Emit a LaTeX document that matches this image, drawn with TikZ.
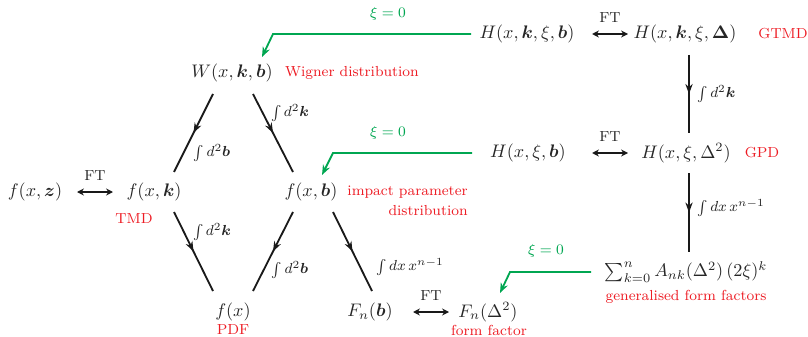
\documentclass[tikz,border=0pt]{standalone}
\usepackage{amsmath}
\usetikzlibrary{arrows.meta,calc,decorations.markings}
\definecolor{myred}{RGB}{237,28,36}
\definecolor{mygreen}{RGB}{0,166,81}
\tikzset{
  mathnode/.style={inner sep=2pt,text=black!85},
  redlabel/.style={inner sep=0pt,text=myred,font=\footnotesize},
  oplabel/.style={inner sep=0pt,text=black!85,font=\footnotesize},
  greenlabel/.style={inner sep=0pt,text=mygreen,font=\footnotesize},
  midarrow/.style={line width=1pt,black!90,postaction={decorate},
    decoration={markings,mark=at position 0.5 with {\arrow{Stealth[length=5.5pt,width=4pt]}}}},
  ftarrow/.style={line width=1pt,black!90,{Stealth[length=3.8pt,width=3.8pt]}-{Stealth[length=3.8pt,width=3.8pt]}},
  greenarrow/.style={line width=1pt,mygreen,-{Stealth[length=5.5pt,width=4.2pt]}},
}
\begin{document}
\begin{tikzpicture}[x=0.55pt,y=-0.55pt]
\useasboundingbox (0,0) rectangle (808,336);
% top row
\node[mathnode] (Hkxb) at (527,34) {$H(x,\boldsymbol{k},\xi,\boldsymbol{b})$};
\node[mathnode] (Hkxd) at (685,34) {$H(x,\boldsymbol{k},\xi,\boldsymbol{\Delta})$};
\node[redlabel] (gtmd) at (783,34) {GTMD};
\node[mathnode] (W) at (232,73) {$W(x,\boldsymbol{k},\boldsymbol{b})$};
\node[redlabel] (wig) at (352,73) {Wigner distribution};
% middle row
\node[mathnode] (Hxb) at (528,153) {$H(x,\xi,\boldsymbol{b})$};
\node[mathnode] (Hxd) at (686,153) {$H(x,\xi,\Delta^2)$};
\node[redlabel] (gpd) at (762,153) {GPD};
\node[mathnode] (fxz) at (35,192) {$f(x,\boldsymbol{z})$};
\node[mathnode] (fk) at (154,192) {$f(x,\boldsymbol{k})$};
\node[redlabel] (tmd) at (134,219) {TMD};
\node[mathnode] (fb) at (311,192) {$f(x,\boldsymbol{b})$};
\node[redlabel,align=right,anchor=north east] (ipd) at (468,186) {impact parameter\\[1.5pt]distribution};
% bottom
\node[mathnode] (sum) at (686,272) {$\sum_{k=0}^{n} A_{nk}(\Delta^2)\,(2\xi)^k$};
\node[redlabel] (gff) at (686,297) {generalised form factors};
\node[mathnode] (fx) at (233,312) {$f(x)$};
\node[redlabel] (pdf) at (233,330) {PDF};
\node[mathnode] (Fnb) at (370,312) {$F_n(\boldsymbol{b})$};
\node[mathnode] (Fnd) at (488,312) {$F_n(\Delta^2)$};
\node[redlabel] (ff) at (489,330) {form factor};
% FT arrows
\draw[ftarrow] ($(Hkxb)+(65,0)$) -- node[oplabel,above=6pt] {FT} ($(Hkxd)+(-57,0)$);
\draw[ftarrow] ($(Hxb)+(64,0)$) -- node[oplabel,above=6pt] {FT} ($(Hxd)+(-58,0)$);
\draw[ftarrow] ($(fxz)+(42,0)$) -- node[oplabel,above=6pt] {FT} ($(fk)+(-41,0)$);
\draw[ftarrow] ($(Fnb)+(43,0)$) -- node[oplabel,above=6pt] {FT} ($(Fnd)+(-39,0)$);
% vertical arrows
\draw[midarrow] ($(Hkxd)+(4,21)$) -- ($(Hxd)+(3,-20)$);
\node[oplabel,anchor=west] (l1) at (697,94) {$\int d^2\boldsymbol{k}$};
\draw[midarrow] ($(Hxd)+(3,20)$) -- ($(sum)+(3,-20)$);
\node[oplabel,anchor=west] (l2) at (697,208) {$\int dx\, x^{n-1}$};
% diagonals
\draw[midarrow] ($(W)+(-19,21)$) -- ($(fk)+(20,-20)$);
\node[oplabel] (l3) at (212,153) {$\int d^2\boldsymbol{b}$};
\draw[midarrow] ($(W)+(21,21)$) -- ($(fb)+(-18,-20)$);
\node[oplabel] (l4) at (290,113) {$\int d^2\boldsymbol{k}$};
\draw[midarrow] ($(fk)+(20,20)$) -- ($(fx)+(-20,-21)$);
\node[oplabel] (l5) at (212,232) {$\int d^2\boldsymbol{k}$};
\draw[midarrow] ($(fb)+(-18,20)$) -- ($(fx)+(20,-21)$);
\node[oplabel] (l6) at (290,270) {$\int d^2\boldsymbol{b}$};
\draw[midarrow] ($(fb)+(22,20)$) -- ($(Fnb)+(2,-21)$);
\node[oplabel,anchor=west] (l7) at (376,267) {$\int dx\, x^{n-1}$};
% green arrows
\coordinate (g1) at (273,34);
\coordinate (g2) at (333,153);
\coordinate (g3) at (510,272);
\draw[greenarrow] ($(Hkxb)+(-56,0)$) -- (g1) -- ($(W)+(30,-16)$);
\node[greenlabel] (x1) at (388,14) {$\xi=0$};
\draw[greenarrow] ($(Hxb)+(-56,0)$) -- (g2) -- ($(fb)+(11,-17)$);
\node[greenlabel] (x2) at (388,133) {$\xi=0$};
\draw[greenarrow] ($(sum)+(-95,0)$) -- (g3) -- ($(Fnd)+(12,-19)$);
\node[greenlabel] (x3) at (546,251) {$\xi=0$};
\end{tikzpicture}
\end{document}
